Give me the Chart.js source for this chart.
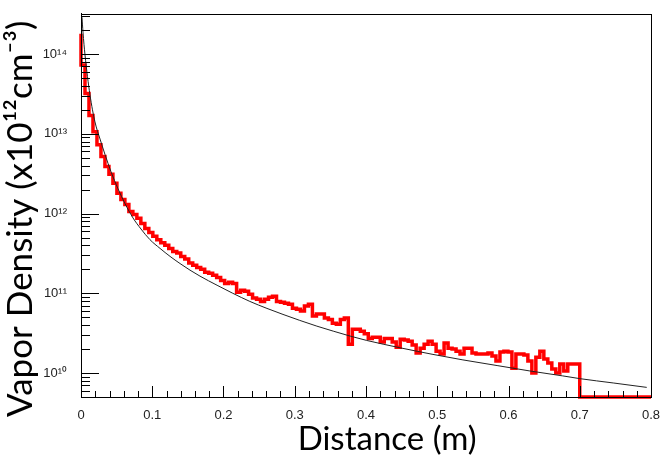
<!DOCTYPE html>
<html>
<head>
<meta charset="utf-8">
<script src="https://cdn.jsdelivr.net/npm/chart.js@4.4.0/dist/chart.umd.min.js"></script>
<style>
  html, body { margin: 0; padding: 0; background: #fff; }
  #wrap { width: 664px; height: 466px; }
</style>
</head>
<body>
<div id="wrap"><canvas id="vaporChart"></canvas></div>
<script>
// histogram binning: 125 bins of 0.0056 m fill 0 - 0.7 m, empty after that
const binWidth = 0.0056
const histEnd = 0.7
const axisEnd = 0.8

// red histogram, one value per bin (cm^-3)
const densityBins = [
  1.8e14, 7.3e13, 3.2e13, 1.7e13, 1.06e13, 7.3e12, 5.2e12, 3.9e12, 3.1e12, 2.4e12,
  1.8e12, 1.5e12, 1.3e12, 1.06e12, 9.7e11, 8.7e11, 7.5e11, 6.5e11, 5.8e11, 5.2e11,
  4.7e11, 4.3e11, 4.0e11, 3.65e11, 3.35e11, 3.2e11, 2.9e11, 2.7e11, 2.4e11, 2.24e11,
  2.1e11, 2.0e11, 1.83e11, 1.78e11, 1.68e11, 1.58e11, 1.45e11, 1.33e11, 1.37e11, 1.33e11,
  1.03e11, 1.09e11, 1.06e11, 9.7e10, 8.7e10, 8.4e10, 7.9e10, 8.4e10, 8.9e10, 9.2e10,
  7.9e10, 7.7e10, 7.5e10, 7.3e10, 6.5e10, 6.3e10, 6.0e10, 6.9e10, 7.3e10, 5.2e10,
  5.5e10, 5.5e10, 4.9e10, 4.7e10, 4.2e10, 4.1e10, 4.7e10, 4.9e10, 2.3e10, 3.55e10,
  3.55e10, 3.35e10, 3.1e10, 2.7e10, 2.8e10, 2.8e10, 2.45e10, 2.7e10, 2.7e10, 2.45e10,
  2.1e10, 2.65e10, 2.6e10, 2.5e10, 2.24e10, 1.78e10, 2.05e10, 2.3e10, 2.5e10, 2.3e10,
  1.88e10, 1.73e10, 2.37e10, 2.05e10, 2.0e10, 1.88e10, 1.73e10, 2.05e10, 2.05e10, 1.78e10,
  1.73e10, 1.73e10, 1.73e10, 1.78e10, 1.63e10, 1.41e10, 1.83e10, 1.88e10, 1.83e10, 1.15e10,
  1.73e10, 1.73e10, 1.68e10, 1.41e10, 1.0e10, 1.58e10, 1.88e10, 1.5e10, 1.33e10, 1.12e10,
  1.0e10, 1.3e10, 1.06e10, 1.3e10, 1.3e10
]

// black model curve
const curveX = [0.0014, 0.0028, 0.0056, 0.0126, 0.0196, 0.0267, 0.0337, 0.0421, 0.0519, 0.0618,
  0.073, 0.0842, 0.0968, 0.111, 0.125, 0.139, 0.153, 0.167, 0.191, 0.213,
  0.237, 0.261, 0.2835, 0.307, 0.331, 0.354, 0.378, 0.401, 0.424, 0.448,
  0.472, 0.494, 0.536, 0.584, 0.63, 0.676, 0.7, 0.747, 0.794]
const curveY = [2.9e14, 1.88e14, 9.8e13, 3.08e13, 1.41e13, 8.6e12, 5.5e12, 3.35e12, 2.05e12, 1.33e12,
  8.8e11, 6.4e11, 4.7e11, 3.65e11, 2.9e11, 2.36e11, 1.95e11, 1.64e11, 1.26e11, 1.0e11,
  7.9e10, 6.46e10, 5.43e10, 4.57e10, 3.87e10, 3.35e10, 2.9e10, 2.56e10, 2.3e10, 2.07e10,
  1.87e10, 1.71e10, 1.46e10, 1.24e10, 1.06e10, 9.2e9, 8.5e9, 7.5e9, 6.6e9]

const xMajorTicks = [0, 0.1, 0.2, 0.3, 0.4, 0.5, 0.6, 0.7, 0.8]
const xMinorStep = 0.02
const yDecades = [1e10, 1e11, 1e12, 1e13, 1e14]
const yMin = 5e9
const yMax = 3.2e14

const SUP = { '0': '⁰', '1': '¹', '2': '²', '3': '³', '4': '⁴', '5': '⁵', '6': '⁶', '7': '⁷', '8': '⁸', '9': '⁹', '-': '⁻' }
const sup = s => String(s).split('').map(c => SUP[c] || c).join('')

const histPoints = densityBins.map((v, i) => ({ x: i * binWidth, y: Math.max(v, yMin) }))
histPoints.push({ x: histEnd, y: densityBins[densityBins.length - 1] })
histPoints.push({ x: histEnd, y: yMin })
histPoints.push({ x: axisEnd, y: yMin })

const curvePoints = curveX.map((x, i) => ({ x: x, y: curveY[i] }))

// ROOT style: ticks pointing into the frame, plus a closed box
const frameTicks = {
  id: 'frameTicks',
  afterDraw(chart) {
    const { ctx, chartArea: a } = chart
    const xs = chart.scales.x, ys = chart.scales.y
    ctx.save()
    ctx.strokeStyle = '#000'
    ctx.lineWidth = 1
    ctx.beginPath()
    for (let v = 0; v <= axisEnd + 1e-9; v += xMinorStep) {
      const px = Math.round(xs.getPixelForValue(v)) + 0.5
      const major = xMajorTicks.some(t => Math.abs(t - v) < 1e-6)
      ctx.moveTo(px, a.bottom)
      ctx.lineTo(px, a.bottom - (major ? 11 : 6))
    }
    yDecades.concat([1e9]).forEach(d => {
      for (let m = 1; m <= 9; m++) {
        const v = d * m
        if (v < yMin || v > yMax) continue
        const py = Math.round(ys.getPixelForValue(v)) + 0.5
        ctx.moveTo(a.left, py)
        ctx.lineTo(a.left + (m === 1 ? 18 : 9), py)
      }
    })
    ctx.stroke()
    ctx.strokeRect(Math.round(a.left) + 0.5, Math.round(a.top) + 0.5, Math.round(a.right - a.left), Math.round(a.bottom - a.top))
    ctx.restore()
  }
}

new Chart(document.getElementById('vaporChart'), {
  type: 'line',
  data: {
    datasets: [
      {
        data: curvePoints,
        borderColor: '#222',
        borderWidth: 1,
        pointRadius: 0,
        cubicInterpolationMode: 'monotone',
        fill: false
      },
      {
        data: histPoints,
        borderColor: '#ff0000',
        borderWidth: 3.5,
        pointRadius: 0,
        stepped: 'after',
        borderJoinStyle: 'miter',
        fill: false,
        clip: 3
      }
    ]
  },
  options: {
    responsive: true,
    maintainAspectRatio: false,
    animation: false,
    layout: { padding: { top: 12, right: 13, left: 0, bottom: 0 } },
    plugins: { legend: { display: false }, tooltip: { enabled: false } },
    scales: {
      x: {
        type: 'linear',
        min: 0,
        max: axisEnd,
        grid: { display: false },
        border: { display: true, color: '#000' },
        afterBuildTicks: s => { s.ticks = xMajorTicks.map(v => ({ value: v })) },
        afterFit: s => { s.height = 69 },
        ticks: {
          autoSkip: false,
          maxRotation: 0,
          padding: 3,
          color: '#222',
          font: { family: 'Liberation Sans', size: 13 },
          callback: v => String(Math.round(v * 10) / 10)
        },
        title: {
          display: true,
          // leading spaces push the centred title right, as in the original
          text: '     Distance (m)',
          color: '#000',
          font: { family: 'Lato', size: 33 },
          padding: { top: 0, bottom: 7 }
        }
      },
      y: {
        type: 'logarithmic',
        min: yMin,
        max: yMax,
        grid: { display: false },
        border: { display: true, color: '#000' },
        afterBuildTicks: s => { s.ticks = yDecades.map(v => ({ value: v })) },
        afterFit: s => { s.width = 81 },
        ticks: {
          autoSkip: false,
          padding: 6,
          color: '#222',
          font: { family: 'Liberation Sans', size: 13 },
          callback: v => '10' + sup(Math.round(Math.log10(v)))
        },
        title: {
          display: true,
          text: 'Vapor Density (x10' + sup(12) + 'cm' + sup(-3) + ')   ',
          color: '#000',
          font: { family: 'Lato', size: 35 },
          padding: { top: 0, bottom: 0 }
        }
      }
    }
  },
  plugins: [frameTicks]
})
</script>
</body>
</html>
